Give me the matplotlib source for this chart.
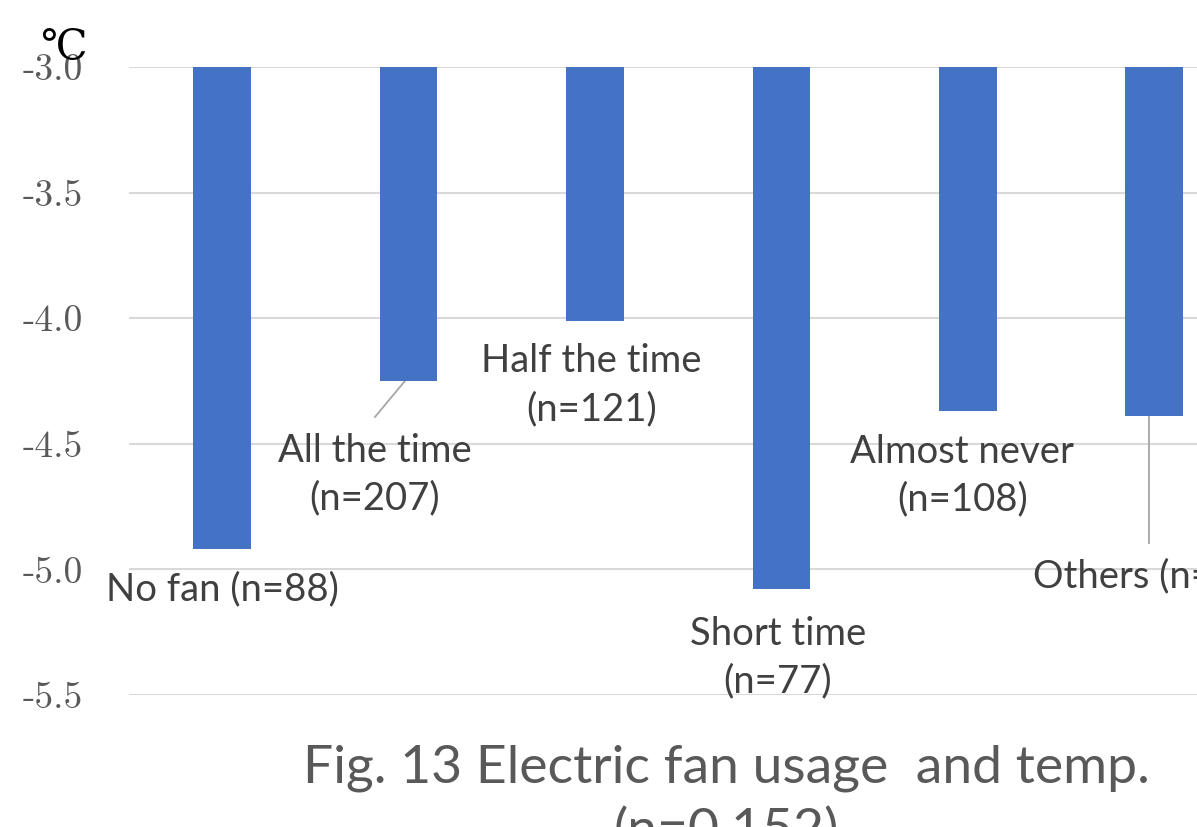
import matplotlib
matplotlib.use("Agg")
import matplotlib.pyplot as plt
from matplotlib.ticker import FixedLocator, FixedFormatter

# Data
categories = ["No fan (n=88)", "All the time\n(n=207)", "Half the time\n(n=121)",
              "Short time\n(n=77)", "Almost never\n(n=108)", "Others (n=51)"]
values = [-4.92, -4.25, -4.01, -5.08, -4.37, -4.39]
y_ticks = [-3.0, -3.5, -4.0, -4.5, -5.0, -5.5]
y_tick_labels = ["-3.0", "-3.5", "-4.0", "-4.5", "-5.0", "-5.5"]
baseline = -3.0
title = "Fig. 13 Electric fan usage  and temp.\n(n=0,152)"
unit = "℃"

W, H = 1197, 827
fig = plt.figure(figsize=(W / 100, H / 100), dpi=100)
fig.patch.set_facecolor("white")

def fx(px):
    return px / W

def fy(py):
    return 1 - py / H

step = 186.4
left = 129
ax = fig.add_axes([fx(left), fy(695), fx(left + 6 * step) - fx(left), fy(67) - fy(695)])
ax.set_xlim(-0.5, 5.5)
ax.set_ylim(-5.5, -3.0)

xs = list(range(len(values)))
ax.bar(xs, [v - baseline for v in values], bottom=baseline, width=0.31,
       color="#4472C4", zorder=3)

ax.yaxis.set_major_locator(FixedLocator(y_ticks))
ax.yaxis.set_major_formatter(FixedFormatter(y_tick_labels))
ax.grid(axis="y", color="#d9d9d9", linewidth=1.5, zorder=0)
ax.set_xticks([])
ax.tick_params(axis="y", length=0, pad=33, labelsize=27, labelcolor="#595959")
for lab in ax.get_yticklabels():
    lab.set_fontfamily("cmr10")
for s in ax.spines.values():
    s.set_visible(False)

label_font = dict(family="Lato", fontsize=27.5, color="#404040", linespacing=1.4,
                  ha="center", va="center")
# (x, y) of each data label in data coordinates
label_pos = [(0.0, -5.078), (0.82, -4.624), (1.98, -4.266),
             (2.98, -5.351), (3.97, -4.628), (4.98, -5.026)]
for (lx, ly), text in zip(label_pos, categories):
    ax.text(lx, ly, text, clip_on=False, zorder=4, **label_font)

# Leader lines to labels placed away from their bars
ax.plot([0.98, 0.82], [values[1], -4.393], color="#a6a6a6", lw=1.3, zorder=2)
ax.plot([4.97, 4.97], [values[5], -4.895], color="#a6a6a6", lw=1.3, zorder=2)

fig.text(fx(40), fy(47), unit, fontsize=30, color="black",
         family=["DejaVu Serif"], ha="left", va="center")

fig.text(fx(726), fy(744), title, fontsize=38.5, color="#595959",
         family="Lato", ha="center", va="top", linespacing=1.4)
fig.savefig("out.png", dpi=100, facecolor="white")
